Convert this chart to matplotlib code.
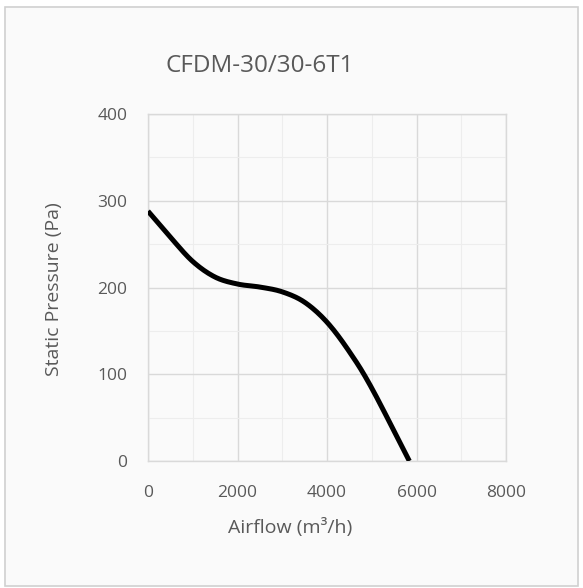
import numpy as np
import matplotlib.pyplot as plt
from matplotlib.patches import Rectangle
from matplotlib.ticker import MultipleLocator

# curve (m3/h, Pa)
airflow = [0, 500, 1000, 1500, 2000, 2500, 3000, 3500, 4000, 4500, 5000, 5840]
pressure = [288, 258, 230, 212, 204, 200.5, 195, 183, 160, 126, 84, 0]

x_ticks = [0, 2000, 4000, 6000, 8000]
y_ticks = [0, 100, 200, 300, 400]

titulo = 'CFDM-30/30-6T1'
rotulo_x = 'Airflow (m³/h)'
rotulo_y = 'Static Pressure (Pa)'

COR_TEXTO = '#595959'
COR_GRADE = '#d9d9d9'
COR_GRADE_MENOR = '#ededed'


def suavizar(xs, ys, passos=20):
    # catmull-rom, like excel's "smoothed line"
    xs = np.asarray(xs, float)
    ys = np.asarray(ys, float)
    px = np.concatenate([[2 * xs[0] - xs[1]], xs, [2 * xs[-1] - xs[-2]]])
    py = np.concatenate([[2 * ys[0] - ys[1]], ys, [2 * ys[-1] - ys[-2]]])
    sx, sy = [], []
    t = np.linspace(0, 1, passos, endpoint=False)
    for i in range(1, len(px) - 2):
        for p, out in ((px, sx), (py, sy)):
            p0, p1, p2, p3 = p[i - 1], p[i], p[i + 1], p[i + 2]
            out.extend(0.5 * (2 * p1 + (-p0 + p2) * t
                              + (2 * p0 - 5 * p1 + 4 * p2 - p3) * t ** 2
                              + (-p0 + 3 * p1 - 3 * p2 + p3) * t ** 3))
    sx.append(xs[-1])
    sy.append(ys[-1])
    return np.array(sx), np.array(sy)


plt.rcParams['font.family'] = ['Open Sans', 'DejaVu Sans']

fig = plt.figure(figsize=(5.83, 5.88), dpi=100)
fig.patch.set_facecolor('white')
fig.add_artist(Rectangle((5 / 583, 2 / 588), 573 / 583, 579 / 588,
                         transform=fig.transFigure, facecolor='#fafafa',
                         edgecolor='#d0d0d0', linewidth=1.2, zorder=-5))

ax = fig.add_axes([148 / 583, 1 - 461 / 588, 358 / 583, 347 / 588])
ax.set_facecolor('none')
ax.set_zorder(2)

lx, ly = suavizar(airflow, pressure)
ax.plot(lx, ly, color='black', linewidth=3.6, solid_capstyle='butt', zorder=3)

ax.set_xlim(0, 8000)
ax.set_ylim(0, 400)
ax.set_xticks(x_ticks)
ax.set_yticks(y_ticks)
ax.xaxis.set_minor_locator(MultipleLocator(1000))
ax.yaxis.set_minor_locator(MultipleLocator(50))
ax.grid(True, which='major', color=COR_GRADE, linewidth=1.0)
ax.grid(True, which='minor', color=COR_GRADE_MENOR, linewidth=0.8)
ax.set_axisbelow(True)
for lado in ax.spines.values():
    lado.set_color(COR_GRADE)
    lado.set_linewidth(1.0)
ax.tick_params(which='both', length=0)
ax.tick_params(axis='x', pad=17, labelsize=12.5, labelcolor=COR_TEXTO)
ax.tick_params(axis='y', pad=15, labelsize=12.5, labelcolor=COR_TEXTO)

# labels centred on the chart area, not on the plot box
fig.text(290 / 583, 1 - 527 / 588, rotulo_x, ha='center', va='center',
         fontsize=14, color=COR_TEXTO)
fig.text(54 / 583, 1 - 289 / 588, rotulo_y, ha='center', va='center',
         rotation=90, fontsize=14, color=COR_TEXTO)

fig.text(260 / 583, 1 - 66 / 588, titulo, ha='center', va='center',
         fontsize=17.5, color=COR_TEXTO)

plt.savefig('out.png', dpi=100, facecolor=fig.get_facecolor())
